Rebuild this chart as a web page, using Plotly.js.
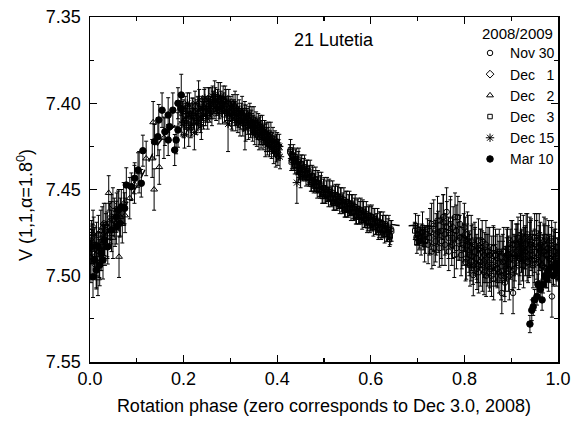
<!DOCTYPE html>
<html>
<head>
<meta charset="utf-8">
<script src="https://cdn.plot.ly/plotly-3.0.1.min.js"></script>
<style>
html,body{margin:0;padding:0;background:#fff;}
#chart{width:585px;height:426px;}
</style>
</head>
<body>
<div id="chart"></div>
<script>
// ---- Data (phase, V magnitude, error) ----
const nov30Phase = [0.725,0.730,0.735,0.740,0.744,0.748,0.752,0.755,0.758,0.762,0.766,0.770,0.773,0.776,0.780,0.783,0.786,0.790,0.793,0.797,0.800,0.804,0.808,0.812,0.815,0.819,0.823,0.827,0.830,0.834,0.838,0.842,0.846,0.850,0.854,0.858,0.862,0.866,0.870,0.874,0.880,0.884,0.888,0.892,0.896,0.904,0.908,0.912,0.916,0.920,0.924,0.928,0.932,0.936,0.940,0.945,0.950,0.955,0.960,0.965,0.970,0.975,0.980,0.987,0.992,0.996,
  0.7225,0.7265,0.7305,0.7345,0.7385,0.7425,0.7465,0.7505,0.7545,0.7585,0.7625,0.7665,0.7705,0.7745,0.7785,0.7825,0.7865,0.7905,0.7945,0.7985,0.8025,0.8065,0.8105,0.8145,0.8185,0.8225,0.8265,0.8305,0.8345,0.8385,0.8425,0.8465,0.8505,0.8545,0.8585,0.8625,0.8665,0.8705,0.8745,0.8785,0.8825,0.8865,0.8905,0.8945,0.8985,0.9025,0.9065,0.9105,0.9145,0.9185,0.9225,0.9265,0.9305,0.9345,0.9385,0.9425,0.9465,0.9505,0.9545,0.9585,0.9625,0.9665,0.9705,0.9745,0.9785,0.9825,0.9865,0.9905,0.9945,0.9985];
const nov30Mag = [7.478,7.470,7.484,7.476,7.4746,7.468,7.480,7.469,7.476,7.463,7.478,7.470,7.482,7.472,7.466,7.484,7.466,7.478,7.488,7.482,7.472,7.490,7.480,7.494,7.484,7.4996,7.486,7.496,7.480,7.492,7.486,7.498,7.482,7.494,7.488,7.500,7.484,7.494,7.490,7.498,7.510,7.486,7.496,7.484,7.500,7.510,7.490,7.482,7.494,7.480,7.490,7.484,7.478,7.492,7.482,7.488,7.478,7.490,7.484,7.494,7.480,7.488,7.496,7.512,7.486,7.494,
  7.482,7.474,7.486,7.471,7.480,7.468,7.484,7.474,7.466,7.482,7.472,7.486,7.468,7.478,7.488,7.474,7.480,7.470,7.484,7.478,7.492,7.476,7.488,7.480,7.494,7.482,7.490,7.498,7.484,7.494,7.488,7.500,7.486,7.496,7.490,7.502,7.488,7.496,7.486,7.500,7.492,7.504,7.488,7.496,7.490,7.482,7.496,7.486,7.478,7.490,7.484,7.494,7.486,7.476,7.490,7.482,7.494,7.486,7.478,7.492,7.482,7.490,7.486,7.496,7.484,7.490,7.480,7.494,7.486,7.490];
const nov30Err = [0.010,0.012,0.010,0.012,0.012,0.010,0.014,0.016,0.012,0.014,0.012,0.014,0.012,0.012,0.014,0.012,0.012,0.013,0.012,0.012,0.014,0.012,0.015,0.012,0.013,0.012,0.014,0.012,0.013,0.014,0.012,0.013,0.014,0.012,0.016,0.012,0.013,0.012,0.014,0.012,0.012,0.014,0.013,0.012,0.014,0.012,0.013,0.012,0.014,0.012,0.013,0.012,0.014,0.012,0.013,0.012,0.014,0.012,0.013,0.012,0.014,0.012,0.013,0.012,0.013,0.012,
  0.011,0.013,0.010,0.015,0.012,0.014,0.011,0.016,0.013,0.012,0.015,0.011,0.014,0.012,0.013,0.015,0.011,0.013,0.012,0.014,0.011,0.013,0.012,0.015,0.011,0.013,0.014,0.012,0.011,0.015,0.013,0.012,0.014,0.011,0.013,0.012,0.015,0.011,0.013,0.014,0.012,0.011,0.015,0.013,0.012,0.014,0.011,0.013,0.012,0.015,0.011,0.013,0.014,0.012,0.011,0.015,0.013,0.012,0.014,0.011,0.013,0.012,0.015,0.011,0.013,0.014,0.012,0.011,0.013,0.012];

const dec1Phase = [0.802,0.810,0.818,0.826,0.834,0.842,0.850,0.858,0.866,0.874,0.882,0.890,0.898,0.906,0.914,0.922,0.930,0.938,0.946,0.954,0.962,0.970,0.978,0.986,0.994,0.003,0.010,0.018,0.026,0.034,0.042,0.049,
  0.806,0.814,0.822,0.830,0.838,0.846,0.854,0.862,0.870,0.878,0.886,0.894,0.902,0.910,0.918,0.926,0.934,0.942,0.950,0.958,0.966,0.974,0.982,0.990,0.998,
  0.0015,0.0065,0.0135,0.0215,0.0295,0.0375,0.0455,0.0535,0.0615];
const dec1Mag = [7.476,7.486,7.480,7.490,7.484,7.492,7.486,7.494,7.488,7.492,7.486,7.490,7.484,7.488,7.480,7.486,7.482,7.488,7.484,7.480,7.486,7.482,7.488,7.484,7.480,7.478,7.484,7.476,7.482,7.474,7.470,7.459,
  7.482,7.492,7.486,7.494,7.480,7.490,7.498,7.484,7.496,7.490,7.500,7.488,7.494,7.482,7.490,7.478,7.492,7.480,7.490,7.484,7.494,7.478,7.490,7.486,7.492,
  7.490,7.472,7.494,7.486,7.470,7.480,7.466,7.472,7.462];
const dec1Err = [0.010,0.012,0.010,0.012,0.011,0.012,0.010,0.012,0.011,0.012,0.010,0.012,0.011,0.012,0.010,0.012,0.011,0.012,0.010,0.012,0.011,0.012,0.010,0.012,0.011,0.010,0.012,0.011,0.012,0.010,0.012,0.010,
  0.012,0.011,0.013,0.010,0.012,0.014,0.011,0.012,0.010,0.013,0.012,0.011,0.014,0.012,0.010,0.013,0.011,0.012,0.014,0.010,0.012,0.011,0.013,0.012,0.010,
  0.012,0.010,0.013,0.011,0.012,0.010,0.013,0.011,0.012];

const dec2Phase = [0.005,0.011,0.017,0.023,0.029,0.034,0.040,0.046,0.052,0.062,0.069,0.075,0.085,0.095,0.105,0.120,0.133,0.135,0.137,0.148,0.158,0.900,0.910,0.920,0.930,0.940,0.950,0.960,0.970,0.980,0.990,
  0.002,0.008,0.014,0.020,0.026,0.032,0.037,0.043,0.049,0.057,0.065,0.072];
const dec2Mag = [7.480,7.488,7.5015,7.474,7.480,7.470,7.452,7.474,7.466,7.489,7.470,7.465,7.455,7.447,7.440,7.432,7.432,7.411,7.450,7.437,7.420,7.480,7.488,7.476,7.486,7.478,7.484,7.476,7.486,7.480,7.488,
  7.492,7.476,7.482,7.490,7.472,7.484,7.476,7.468,7.478,7.462,7.466,7.458];
const dec2Err = [0.010,0.012,0.010,0.012,0.011,0.012,0.010,0.012,0.011,0.012,0.011,0.010,0.012,0.011,0.012,0.010,0.011,0.012,0.012,0.010,0.012,0.012,0.011,0.012,0.010,0.012,0.011,0.012,0.010,0.012,0.011,
  0.012,0.010,0.013,0.011,0.012,0.010,0.013,0.011,0.012,0.010,0.011,0.012];

const dec3Phase = [0.427,0.430,0.433,0.436,0.439,0.442,0.445,0.448,0.451,0.454,0.457,0.460,0.463,0.466,0.469,0.472,0.475,0.478,0.481,0.484,0.487,0.490,0.493,0.496,0.499,0.502,0.505,0.508,0.511,0.514,0.517,0.520,0.523,0.526,0.529,0.532,0.535,0.538,0.541,0.544,0.547,0.550,0.553,0.556,0.559,0.562,0.565,0.568,0.571,0.574,0.577,0.580,0.583,0.586,0.589,0.592,0.595,0.598,0.601,0.604,0.607,0.610,0.613,0.616,0.619,0.622,0.625,0.628,0.631,0.634,0.637,0.640,0.643,0.694,0.697,0.700,0.703,0.706,0.709,0.712,0.715,0.718,0.721,
  0.4285,0.4315,0.4345,0.4375,0.4405,0.4435,0.4465,0.4495,0.4525,0.4555,0.4585,0.4615,0.4645,0.4675,0.4705,0.4735,0.4765,0.4795,0.4825,0.4855,0.4885,0.4915,0.4945,0.4975,0.5005,0.5035,0.5065,0.5095,0.5125,0.5155,0.5185,0.5215,0.5245,0.5275,0.5305,0.5335,0.5365,0.5395,0.5425,0.5455,0.5485,0.5515,0.5545,0.5575,0.5605,0.5635,0.5665,0.5695,0.5725,0.5755,0.5785,0.5815,0.5845,0.5875,0.5905,0.5935,0.5965,0.5995,0.6025,0.6055,0.6085,0.6115,0.6145,0.6175,0.6205,0.6235,0.6265,0.6295,0.6325,0.6355,0.6385,0.6415,0.6445,
  0.6955,0.6985,0.7015,0.7045,0.7075,0.7105,0.7135,0.7165];
const dec3Mag = [7.428,7.434,7.430,7.434,7.431,7.436,7.434,7.440,7.435,7.441,7.437,7.441,7.438,7.443,7.441,7.447,7.442,7.448,7.444,7.448,7.444,7.450,7.448,7.454,7.449,7.454,7.450,7.453,7.450,7.455,7.453,7.458,7.453,7.458,7.454,7.457,7.454,7.459,7.457,7.462,7.457,7.462,7.458,7.461,7.458,7.463,7.461,7.466,7.461,7.466,7.462,7.466,7.462,7.468,7.465,7.471,7.465,7.471,7.466,7.470,7.466,7.472,7.469,7.475,7.469,7.475,7.470,7.474,7.470,7.476,7.473,7.479,7.473,7.474,7.478,7.476,7.480,7.477,7.475,7.479,7.482,7.476,7.473,
  7.427,7.433,7.431,7.436,7.432,7.436,7.433,7.439,7.436,7.439,7.437,7.443,7.439,7.443,7.440,7.446,7.443,7.446,7.444,7.450,7.446,7.450,7.447,7.453,7.449,7.453,7.450,7.455,7.451,7.455,7.452,7.457,7.453,7.457,7.454,7.459,7.455,7.459,7.456,7.461,7.457,7.461,7.458,7.463,7.459,7.463,7.460,7.465,7.461,7.465,7.462,7.468,7.463,7.467,7.464,7.469,7.465,7.469,7.466,7.472,7.467,7.471,7.468,7.473,7.469,7.473,7.470,7.476,7.471,7.475,7.472,7.477,7.474,
  7.471,7.481,7.473,7.478,7.481,7.472,7.477,7.480];
const dec3Err = [0.004,0.005,0.004,0.005,0.004,0.005,0.006,0.004,0.005,0.004,0.005,0.004,0.005,0.004,0.005,0.004,0.006,0.004,0.005,0.004,0.005,0.004,0.006,0.004,0.005,0.004,0.005,0.004,0.006,0.004,0.005,0.004,0.005,0.004,0.006,0.004,0.005,0.004,0.005,0.004,0.006,0.004,0.005,0.004,0.005,0.004,0.006,0.004,0.005,0.004,0.005,0.004,0.006,0.004,0.005,0.004,0.005,0.004,0.006,0.004,0.005,0.004,0.005,0.004,0.006,0.004,0.005,0.004,0.005,0.004,0.006,0.004,0.005,0.005,0.004,0.006,0.005,0.004,0.005,0.006,0.010,0.005,0.006,
  0.006,0.005,0.007,0.005,0.006,0.005,0.007,0.005,0.006,0.005,0.007,0.005,0.006,0.005,0.007,0.005,0.006,0.005,0.007,0.005,0.006,0.005,0.007,0.005,0.006,0.005,0.007,0.005,0.006,0.005,0.007,0.005,0.006,0.005,0.007,0.005,0.006,0.005,0.007,0.005,0.006,0.005,0.007,0.005,0.006,0.005,0.007,0.005,0.006,0.005,0.007,0.005,0.006,0.005,0.007,0.005,0.006,0.005,0.007,0.005,0.006,0.005,0.007,0.005,0.006,0.005,0.007,0.005,0.006,0.005,0.007,0.005,0.006,
  0.007,0.006,0.008,0.006,0.007,0.009,0.006,0.007];

const dec15Phase = [0.196,0.199,0.202,0.205,0.208,0.211,0.214,0.217,0.220,0.223,0.226,0.229,0.232,0.235,0.238,0.241,0.244,0.247,0.250,0.253,0.256,0.259,0.262,0.265,0.268,0.271,0.274,0.277,0.280,0.283,0.286,0.289,0.292,0.295,0.298,0.301,0.304,0.307,0.310,0.313,0.316,0.319,0.322,0.325,0.328,0.331,0.334,0.337,0.340,0.343,0.346,0.349,0.352,0.355,0.358,0.361,0.364,0.367,0.370,0.373,0.376,0.379,0.382,0.385,0.388,0.391,0.394,0.397,0.400,0.403,0.406,0.442,0.446,0.450,
  0.1975,0.2005,0.2035,0.2065,0.2095,0.2125,0.2155,0.2185,0.2215,0.2245,0.2275,0.2305,0.2335,0.2365,0.2395,0.2425,0.2455,0.2485,0.2515,0.2545,0.2575,0.2605,0.2635,0.2665,0.2695,0.2725,0.2755,0.2785,0.2815,0.2845,0.2875,0.2905,0.2935,0.2965,0.2995,0.3025,0.3055,0.3085,0.3115,0.3145,0.3175,0.3205,0.3235,0.3265,0.3295,0.3325,0.3355,0.3385,0.3415,0.3445,0.3475,0.3505,0.3535,0.3565,0.3595,0.3625,0.3655,0.3685,0.3715,0.3745,0.3775,0.3805,0.3835,0.3865,0.3895,0.3925,0.3955,0.3985,0.4015,0.4045];
const dec15Mag = [7.412,7.404,7.418,7.409,7.400,7.415,7.407,7.412,7.403,7.417,7.406,7.410,7.401,7.408,7.413,7.403,7.399,7.407,7.402,7.398,7.405,7.400,7.396,7.403,7.398,7.401,7.396,7.403,7.399,7.405,7.400,7.397,7.404,7.412,7.407,7.402,7.409,7.404,7.400,7.407,7.411,7.405,7.409,7.404,7.410,7.413,7.407,7.411,7.408,7.414,7.410,7.413,7.417,7.411,7.415,7.419,7.413,7.417,7.421,7.416,7.420,7.424,7.418,7.422,7.426,7.421,7.425,7.429,7.423,7.427,7.431,7.446,7.440,7.443,
  7.405,7.413,7.402,7.411,7.406,7.401,7.414,7.405,7.409,7.400,7.412,7.404,7.398,7.410,7.402,7.407,7.397,7.404,7.409,7.399,7.402,7.406,7.399,7.395,7.404,7.399,7.406,7.396,7.402,7.397,7.405,7.400,7.406,7.399,7.404,7.407,7.401,7.406,7.410,7.403,7.408,7.412,7.406,7.411,7.407,7.415,7.409,7.413,7.406,7.411,7.416,7.410,7.414,7.418,7.412,7.416,7.420,7.414,7.418,7.423,7.417,7.421,7.425,7.419,7.423,7.428,7.422,7.426,7.430,7.425];
const dec15Err = [0.007,0.006,0.008,0.006,0.006,0.010,0.006,0.007,0.006,0.010,0.006,0.006,0.014,0.006,0.008,0.006,0.007,0.006,0.006,0.007,0.006,0.009,0.006,0.006,0.007,0.006,0.008,0.006,0.006,0.007,0.006,0.007,0.006,0.016,0.006,0.006,0.007,0.006,0.007,0.006,0.006,0.007,0.006,0.008,0.006,0.014,0.006,0.007,0.006,0.006,0.008,0.006,0.007,0.006,0.006,0.008,0.006,0.007,0.006,0.006,0.008,0.006,0.007,0.006,0.006,0.007,0.006,0.008,0.006,0.006,0.007,0.012,0.006,0.006,
  0.006,0.007,0.006,0.008,0.006,0.007,0.006,0.008,0.006,0.007,0.006,0.008,0.006,0.007,0.006,0.008,0.006,0.007,0.006,0.008,0.006,0.007,0.006,0.008,0.006,0.007,0.006,0.008,0.006,0.007,0.006,0.008,0.006,0.007,0.006,0.008,0.006,0.007,0.006,0.008,0.006,0.007,0.006,0.008,0.006,0.007,0.006,0.008,0.006,0.007,0.006,0.008,0.006,0.007,0.006,0.008,0.006,0.007,0.006,0.008,0.006,0.007,0.006,0.008,0.006,0.007,0.006,0.008,0.006,0.007];

const mar10Phase = [0.003,0.0064,0.010,0.0135,0.017,0.0207,0.024,0.0278,0.031,0.038,0.0456,0.0563,0.0563,0.0598,0.0634,0.0669,0.074,0.0776,0.0883,0.0955,0.1026,0.1096,0.113,0.138,0.145,0.147,0.154,0.160,0.167,0.167,0.170,0.177,0.181,0.184,0.188,0.188,0.194,0.195,0.940,0.944,0.947,0.950,0.955,0.957,0.962,0.966,0.968,0.972,0.976,0.980,0.985,0.990,0.995,0.998];
const mar10Mag = [7.4832,7.5006,7.4909,7.4967,7.4832,7.4938,7.4870,7.4909,7.4793,7.4832,7.4735,7.4716,7.4658,7.4619,7.4696,7.4600,7.4609,7.4474,7.4484,7.4435,7.4387,7.4464,7.4275,7.4223,7.4194,7.4097,7.4040,7.4165,7.4068,7.4213,7.4136,7.4040,7.4271,7.4213,7.4000,7.4155,7.4030,7.3952,7.528,7.520,7.518,7.514,7.512,7.505,7.508,7.514,7.505,7.500,7.502,7.497,7.495,7.500,7.493,7.497];
const mar10Err = [0.010,0.012,0.010,0.011,0.008,0.012,0.010,0.011,0.009,0.010,0.008,0.010,0.009,0.011,0.008,0.010,0.009,0.010,0.008,0.009,0.010,0.008,0.009,0.010,0.011,0.009,0.010,0.008,0.010,0.009,0.008,0.010,0.009,0.008,0.009,0.010,0.008,0.012,0.005,0.006,0.005,0.006,0.005,0.006,0.005,0.006,0.005,0.006,0.005,0.006,0.005,0.006,0.005,0.006];

const fitPhase = [0,0.05,0.1,0.15,0.2,0.25,0.3,0.35,0.4,0.45,0.5,0.55,0.6,0.65,0.7,0.75,0.8,0.85,0.9,0.95,1.0];
const fitMag = [7.486,7.470,7.448,7.422,7.409,7.403,7.403,7.410,7.422,7.438,7.450,7.459,7.466,7.4705,7.471,7.472,7.478,7.486,7.488,7.490,7.488];

const nightLabels = ['Nov 30','Dec \u20071','Dec \u20072','Dec \u20073','Dec 15','Mar 10'];
const legendTitle = '2008/2009';
const chartLabel = '21 Lutetia';
const yTitle = 'V (1,1,\u03b1=1.8<sup>0</sup>)';
const xTitle = 'Rotation phase (zero corresponds to Dec 3.0, 2008)';

// ---- Styling ----
const FONT = 'Liberation Sans, Arial, Helvetica, sans-serif';
const errStyle = (arr) => ({type:'data', array: arr, visible:true, color:'#000', thickness:1, width:2});

function night(x, y, e, name, symbol, size, fill){
  return {
    x: x, y: y, type:'scatter', mode:'markers', name: name,
    error_y: errStyle(e),
    marker: {symbol: symbol, size: size, color: fill, line:{color:'#000', width:1}}
  };
}

const traces = [
  {x: fitPhase, y: fitMag, type:'scatter', mode:'lines', showlegend:false, hoverinfo:'skip',
   line:{color:'#000', width:1.5, dash:'dash', shape:'spline'}},
  night(nov30Phase, nov30Mag, nov30Err, nightLabels[0], 'circle-open', 5.5, '#000'),
  night(dec1Phase, dec1Mag, dec1Err, nightLabels[1], 'diamond-open', 6, '#000'),
  night(dec2Phase, dec2Mag, dec2Err, nightLabels[2], 'triangle-up-open', 6, '#000'),
  night(dec3Phase, dec3Mag, dec3Err, nightLabels[3], 'square-open', 4.5, '#000'),
  night(dec15Phase, dec15Mag, dec15Err, nightLabels[4], 'asterisk-open', 7, '#000'),
  night(mar10Phase, mar10Mag, mar10Err, nightLabels[5], 'circle', 6.5, '#000')
];

const axisCommon = {
  showline:true, linecolor:'#000', linewidth:1.5, mirror:'allticks',
  ticks:'inside', ticklen:7, tickwidth:1.2, tickcolor:'#000',
  showgrid:false, zeroline:false,
  tickfont:{family:FONT, size:18, color:'#000'}
};

const layout = {
  width:585, height:426,
  margin:{l:90, r:27, t:17, b:64},
  paper_bgcolor:'#fff', plot_bgcolor:'#fff',
  font:{family:FONT, color:'#000'},
  xaxis: Object.assign({}, axisCommon, {
    range:[0,1], dtick:0.2, tick0:0, tickformat:'.1f',
    minor:{dtick:0.1, ticks:'inside', ticklen:4, tickcolor:'#000', tickwidth:1.2},
    title:{text: xTitle, font:{family:FONT, size:18}, standoff:11}
  }),
  yaxis: Object.assign({}, axisCommon, {
    range:[7.55,7.35], dtick:0.05, tick0:7.35, tickformat:'.2f', ticklabelstandoff:4,
    minor:{dtick:0.025, ticks:'inside', ticklen:4, tickcolor:'#000', tickwidth:1.2}
  }),
  showlegend:true,
  legend:{x:0.812, y:0.941, xanchor:'left', yanchor:'top', bgcolor:'rgba(0,0,0,0)',
          font:{family:FONT, size:14, color:'#000'}, tracegroupgap:0},
  annotations:[
    {text: chartLabel, xref:'paper', yref:'paper', x:0.522, y:0.933, xanchor:'center', yanchor:'middle',
     showarrow:false, font:{family:FONT, size:18, color:'#000'}},
    {text: legendTitle, xref:'paper', yref:'paper', x:0.9145, y:0.952, xanchor:'center', yanchor:'middle',
     showarrow:false, font:{family:FONT, size:15, color:'#000'}},
    {text: yTitle, xref:'paper', yref:'paper', x:-0.139, y:0.455, xanchor:'center', yanchor:'middle',
     textangle:-90, showarrow:false, font:{family:FONT, size:18, color:'#000'}}
  ]
};

Plotly.newPlot('chart', traces, layout, {displayModeBar:false, staticPlot:true});
</script>
</body>
</html>
